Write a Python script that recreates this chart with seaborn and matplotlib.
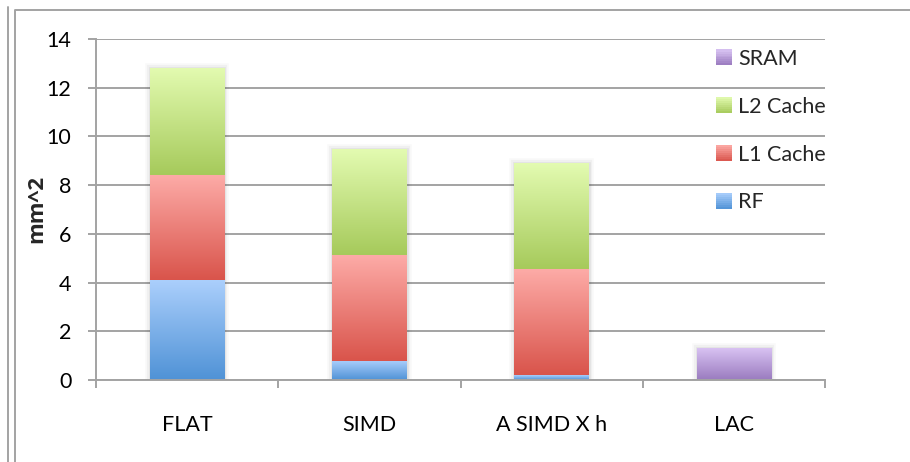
import numpy as np
import pandas as pd
import matplotlib
matplotlib.use("Agg")
import matplotlib.pyplot as plt
import matplotlib.patheffects as pe
import seaborn as sns
from matplotlib.patches import Patch
from matplotlib.lines import Line2D
from matplotlib.colors import to_rgb
from matplotlib.legend_handler import HandlerPatch

# ---- data -------------------------------------------------------------
categories = ["FLAT", "SIMD", "A SIMD X h", "LAC"]
rf = [4.1, 0.8, 0.2, 0.0]
l1_cache = [4.3, 4.35, 4.35, 0.0]
l2_cache = [4.4, 4.35, 4.35, 0.0]
sram = [0.0, 0.0, 0.0, 1.3]
y_ticks = [0, 2, 4, 6, 8, 10, 12, 14]
legend_order = ["SRAM", "L2 Cache", "L1 Cache", "RF"]

# light (top) / dark (bottom) shade of every component
shades = {
    "RF": ("#abcffc", "#4f92d6"),
    "L1 Cache": ("#fdaba7", "#d9544b"),
    "L2 Cache": ("#e3fbb1", "#a6ca5b"),
    "SRAM": ("#d8c2f2", "#9a7bbf"),
}
GRID = "#a3a3a3"

df = pd.DataFrame({"category": categories, "RF": rf, "L1 Cache": l1_cache,
                   "L2 Cache": l2_cache, "SRAM": sram})
df["top_rf"] = df["RF"]
df["top_l1"] = df["top_rf"] + df["L1 Cache"]
df["top_l2"] = df["top_l1"] + df["L2 Cache"]
df["zero"] = 0.0

# stacked by drawing cumulative heights, tallest first
layers = [
    ("L2 Cache", "top_l2", "top_l1", True),
    ("L1 Cache", "top_l1", "top_rf", False),
    ("RF", "top_rf", "zero", False),
    ("SRAM", "SRAM", "zero", True),
]

sns.set_style("white")
plt.rcParams["font.family"] = ["Lato", "DejaVu Sans"]
FS = 15.5

W, H = 910, 462
fig = plt.figure(figsize=(W / 100, H / 100), dpi=100)
ax = fig.add_axes([96 / W, 1 - 380 / H, (825 - 96) / W, (380 - 39) / H])


def vertical_gradient(light, dark, n=256):
    lo = np.array(to_rgb(dark))
    hi = np.array(to_rgb(light))
    t = np.linspace(0, 1, n)[:, None]
    return (lo + (hi - lo) * t)[:, None, :]


glow = [pe.Stroke(linewidth=7, foreground="k", alpha=0.025),
        pe.Stroke(linewidth=4.5, foreground="k", alpha=0.035),
        pe.Stroke(linewidth=2, foreground="k", alpha=0.05),
        pe.Normal()]

for name, top_col, bot_col, outer in layers:
    light, dark = shades[name]
    start = len(ax.patches)
    sns.barplot(data=df, x="category", y=top_col, order=categories,
                color=dark, width=0.41, saturation=1, errorbar=None,
                edgecolor="none", linewidth=0, ax=ax, zorder=1)
    img = vertical_gradient(light, dark)
    for patch, top, bot in zip(ax.patches[start:], df[top_col], df[bot_col]):
        if top - bot <= 0:
            continue
        x0 = patch.get_x()
        x1 = x0 + patch.get_width()
        im = ax.imshow(img, extent=[x0, x1, bot, top], origin="lower",
                       aspect="auto", interpolation="bilinear", zorder=2)
        im.set_clip_path(patch)
        if outer:
            patch.set_path_effects(glow)

ax.set_xlim(-0.5, len(categories) - 0.5)
ax.set_ylim(0, 14)
ax.set_yticks(y_ticks)
ax.set_xticks(range(len(categories)))
ax.set_xticklabels(categories)
ax.set_xticks(np.arange(-0.5, len(categories), 1.0), minor=True)
ax.set_xlabel("")
ax.set_ylabel("")

ax.set_axisbelow(True)
ax.yaxis.grid(True, color=GRID, linewidth=1.4)
ax.xaxis.grid(False)
for side in ("top", "right"):
    ax.spines[side].set_visible(False)
for side in ("left", "bottom"):
    ax.spines[side].set_color(GRID)
    ax.spines[side].set_linewidth(1.4)

ax.tick_params(axis="y", length=5.8, width=1.4, color=GRID, pad=12,
               labelsize=FS, labelcolor="black", left=True)
ax.tick_params(axis="x", which="major", length=0, pad=25, labelsize=FS,
               labelcolor="black")
ax.tick_params(axis="x", which="minor", length=5.8, width=1.4, color=GRID,
               bottom=True)

fig.text(37 / W, 1 - 209 / H, "mm^2", rotation=90, ha="center", va="center",
         fontsize=16, fontweight="bold", family=["Open Sans", "DejaVu Sans"])


class GradientSquare(HandlerPatch):
    """Legend key filled with the same light-to-dark ramp as the bars."""

    def create_artists(self, legend, orig_handle, xdescent, ydescent,
                       width, height, fontsize, trans):
        light, dark = shades[orig_handle.get_label()]
        n = 8
        lo = np.array(to_rgb(dark))
        hi = np.array(to_rgb(light))
        arts = []
        for i in range(n):
            c = lo + (hi - lo) * (i + 0.5) / n
            r = matplotlib.patches.Rectangle(
                (-xdescent, -ydescent + height * i / n), width, height / n + 0.3,
                facecolor=c, edgecolor="none", transform=trans)
            arts.append(r)
        return arts


handles = [Patch(facecolor=shades[n][1], edgecolor="none", label=n)
           for n in legend_order]
fig.legend(handles=handles, loc="upper left",
           bbox_to_anchor=(716 / W, 1 - 49 / H), frameon=False,
           fontsize=FS, handlelength=0.74, handleheight=0.74,
           handletextpad=0.3, labelspacing=1.29, borderpad=0,
           borderaxespad=0, handler_map={Patch: GradientSquare()})

# chart area border
fig.add_artist(Line2D([8 / W, 8 / W], [0, 1 - 7 / H],
                      transform=fig.transFigure, color=GRID, lw=1.4))
fig.add_artist(Line2D([15 / W, 15 / W, 1], [0, 1 - 10 / H, 1 - 10 / H],
                      transform=fig.transFigure, color=GRID, lw=1.4))

fig.savefig("out.png", dpi=100)
